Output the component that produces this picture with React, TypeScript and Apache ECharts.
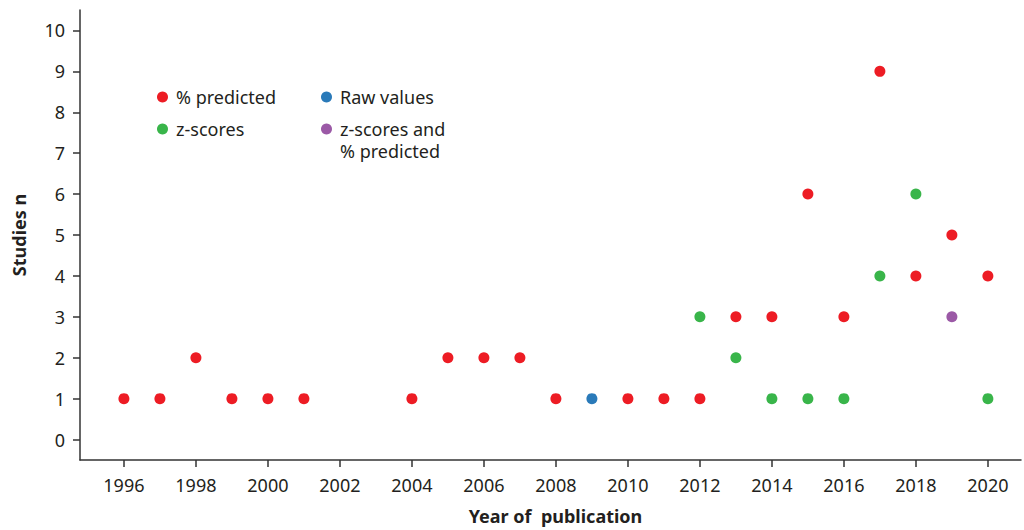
import React, { useEffect, useRef } from "react";
import * as echarts from "echarts";

const yearTicks = [1996, 1998, 2000, 2002, 2004, 2006, 2008, 2010, 2012, 2014, 2016, 2018, 2020];
const countTicks = [0, 1, 2, 3, 4, 5, 6, 7, 8, 9, 10];

const predictedYears = [1996, 1997, 1998, 1999, 2000, 2001, 2004, 2005, 2006, 2007, 2008, 2010, 2011, 2012, 2013, 2014, 2015, 2016, 2017, 2018, 2019, 2020];
const predictedCounts = [1, 1, 2, 1, 1, 1, 1, 2, 2, 2, 1, 1, 1, 1, 3, 3, 6, 3, 9, 4, 5, 4];

const rawYears = [2009];
const rawCounts = [1];

const zYears = [2012, 2013, 2014, 2015, 2016, 2017, 2018, 2020];
const zCounts = [3, 2, 1, 1, 1, 4, 6, 1];

const bothYears = [2019];
const bothCounts = [3];

const FONT = "Noto Sans";
const AXIS = "#333333";
const TEXT = "#231f20";

const pairs = (xs: number[], ys: number[]) => xs.map((x, i) => [x, ys[i]]);

export default function App() {
  const ref = useRef<HTMLDivElement>(null);
  useEffect(() => {
    if (!ref.current) return;
    const chart = echarts.init(ref.current, null, { renderer: "svg" });
    const legendBase = {
      orient: "vertical" as const,
      padding: 0,
      itemWidth: 11,
      itemHeight: 11,
      itemGap: 8,
      icon: "circle",
      selectedMode: false,
      textStyle: { fontFamily: FONT, fontSize: 18, color: TEXT, lineHeight: 26, padding: [0, 0, 0, 3] },
    };
    chart.setOption({
      animation: false,
      textStyle: { fontFamily: FONT },
      grid: { left: 80, right: 3, top: 10, bottom: 68, containLabel: false },
      legend: [
        { ...legendBase, left: 157, top: 84, data: ["% predicted"] },
        { ...legendBase, left: 321, top: 84, data: ["Raw values"] },
        { ...legendBase, left: 157, top: 116, data: ["z-scores"] },
        {
          ...legendBase,
          left: 321,
          top: 116,
          data: ["z-scores and % predicted"],
          formatter: () => "z-scores and",
        },
      ],
      graphic: [
        {
          type: "text",
          left: 340,
          top: 142,
          silent: true,
          style: { text: "% predicted", fontFamily: FONT, fontSize: 18, fill: TEXT },
        },
      ],
      xAxis: {
        type: "value",
        min: 1994.78,
        max: 2020.92,
        name: "Year of  publication",
        nameLocation: "middle",
        nameGap: 47,
        nameTextStyle: { fontFamily: FONT, fontSize: 18, fontWeight: "bold", color: TEXT, padding: [0, 0, 0, 10] },
        axisLine: { show: true, onZero: false, lineStyle: { color: AXIS, width: 1.5 } },
        axisTick: { show: true, length: 7, lineStyle: { color: AXIS, width: 1.5 }, customValues: yearTicks },
        axisLabel: { fontFamily: FONT, fontSize: 18, color: TEXT, margin: 16, customValues: yearTicks, formatter: (v: number) => String(v) },
        splitLine: { show: false },
      },
      yAxis: {
        type: "value",
        min: -0.5,
        max: 10.5,
        name: "Studies n",
        nameLocation: "middle",
        nameGap: 52,
        nameTextStyle: { fontFamily: FONT, fontSize: 18, fontWeight: "bold", color: TEXT },
        axisLine: { show: true, onZero: false, lineStyle: { color: AXIS, width: 1.5 } },
        axisTick: { show: true, length: 7, lineStyle: { color: AXIS, width: 1.5 }, customValues: countTicks },
        axisLabel: { fontFamily: FONT, fontSize: 18, color: TEXT, margin: 15, customValues: countTicks },
        splitLine: { show: false },
      },
      series: [
        { name: "% predicted", type: "scatter", symbolSize: 11, itemStyle: { color: "#ed1c24", opacity: 1 }, data: pairs(predictedYears, predictedCounts) },
        { name: "Raw values", type: "scatter", symbolSize: 11, itemStyle: { color: "#2a7ab9", opacity: 1 }, data: pairs(rawYears, rawCounts) },
        { name: "z-scores", type: "scatter", symbolSize: 11, itemStyle: { color: "#39b54a", opacity: 1 }, data: pairs(zYears, zCounts) },
        { name: "z-scores and % predicted", type: "scatter", symbolSize: 11, itemStyle: { color: "#9b59a6", opacity: 1 }, data: pairs(bothYears, bothCounts) },
      ],
    });
    return () => chart.dispose();
  }, []);
  return <div ref={ref} style={{ width: 1024, height: 530, position: "absolute", left: 0, top: 0 }} />;
}
